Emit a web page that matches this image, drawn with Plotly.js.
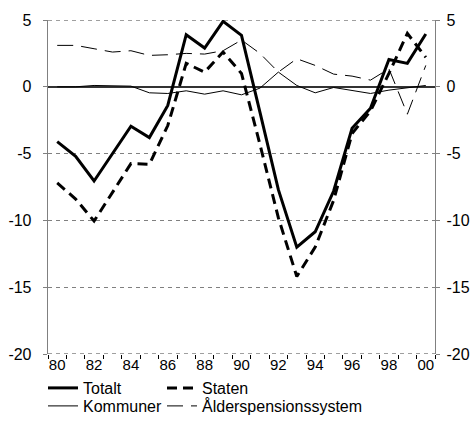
<!DOCTYPE html>
<html>
<head>
<meta charset="utf-8">
<script src="https://cdn.plot.ly/plotly-3.0.1.min.js"></script>
<style>html,body{margin:0;padding:0;background:#fff;}#chart{width:471px;height:423px;}</style>
</head>
<body>
<div id="chart"></div>
<script>
var years = ["80","81","82","83","84","85","86","87","88","89","90","91","92","93","94","95","96","97","98","99","00"];
var tickLabels = ["80","82","84","86","88","90","92","94","96","98","00"];
var totalt = [-4.1,-5.2,-7.05,-5.0,-2.95,-3.8,-1.4,3.9,2.9,4.9,3.85,-1.9,-7.7,-12.0,-10.85,-7.8,-3.1,-1.6,2.05,1.75,3.95];
var staten = [-7.2,-8.4,-10.05,-7.9,-5.75,-5.8,-2.9,1.75,1.1,2.6,1.0,-4.3,-9.8,-14.2,-12.0,-8.5,-3.5,-1.8,1.0,4.0,2.2];
var kommuner = [0,0,0.1,0.05,0.05,-0.45,-0.5,-0.3,-0.55,-0.3,-0.6,-0.1,1.1,0.1,-0.45,-0.05,-0.25,-0.5,-0.25,-0.1,0.1];
var alder = [3.1,3.1,2.85,2.6,2.7,2.35,2.4,2.5,2.45,2.7,3.5,2.5,1.1,2.1,1.6,0.95,0.8,0.5,1.35,-2.05,1.6];
var names = ["Totalt","Staten","Kommuner","Ålderspensionssystem"];
var yRange = [-20, 5];
var yTicks = [-20, -15, -10, -5, 0, 5];
var yTickText = ["-20", "-15", "-10", "-5", "0", "5"];

var xi = years.map(function(_, i){ return i; });
var tickIdx = tickLabels.map(function(l){ return years.indexOf(l); });

var traces = [
  {x: xi, y: totalt, name: names[0], mode: 'lines', line: {color: '#000', width: 3}, legend: 'legend'},
  {x: xi, y: kommuner, name: names[2], mode: 'lines', line: {color: '#000', width: 1}, legend: 'legend3'},
  {x: xi, y: staten, name: names[1], mode: 'lines', line: {color: '#000', width: 3, dash: '10px,6px'}, legend: 'legend2'},
  {x: xi, y: alder, name: names[3], mode: 'lines', line: {color: '#000', width: 1, dash: '16px,8px'}, legend: 'legend4'},
  {x: xi, y: totalt, yaxis: 'y2', mode: 'lines', line: {width: 0}, showlegend: false, hoverinfo: 'skip', opacity: 0}
];

var xFont = {family: 'Liberation Sans, Arial, sans-serif', size: 15, color: '#000'};
var yFont = {family: 'Liberation Sans, Arial, sans-serif', size: 16, color: '#000'};
var legFont = {family: 'Liberation Sans, Arial, sans-serif', size: 16, color: '#000'};
var yax = {
  range: yRange, tickvals: yTicks, ticktext: yTickText, ticks: 'outside', ticklen: 4, tickcolor: '#808080', ticklabelstandoff: 8,
  showgrid: true, gridcolor: '#808080', griddash: '4px,4px', gridwidth: 1.3,
  zeroline: true, zerolinecolor: '#333', zerolinewidth: 2,
  showline: true, linecolor: '#808080', linewidth: 1.3, tickfont: yFont, fixedrange: true
};
var yax2 = JSON.parse(JSON.stringify(yax));
yax2.overlaying = 'y'; yax2.side = 'right'; yax2.showgrid = false; yax2.zeroline = false; yax2.ticklabelstandoff = 3;

function leg(xpx, bottomPx) {
  return {xref: 'container', yref: 'container', x: xpx/471, y: bottomPx/423, xanchor: 'left', yanchor: 'bottom',
          orientation: 'v', font: legFont, bgcolor: 'rgba(0,0,0,0)', tracegroupgap: 0};
}

var edgeShapes = yRange.map(function(v){
  return {type: 'line', xref: 'paper', x0: 0, x1: 1, yref: 'y', y0: v, y1: v,
          line: {color: '#808080', width: 1.3, dash: '4px,4px'}, layer: 'below'};
});

var layout = {
  width: 471, height: 423,
  margin: {l: 48, r: 36, t: 20, b: 69, autoexpand: false},
  paper_bgcolor: '#fff', plot_bgcolor: '#fff',
  font: xFont,
  xaxis: {
    range: [-0.5, years.length - 0.5], tickvals: tickIdx, ticktext: tickLabels, ticks: '', tickangle: 0,
    showgrid: false, zeroline: false, showline: false, tickfont: xFont,
    minor: {ticks: 'outside', ticklen: 4, tickcolor: '#000', tick0: -0.5, dtick: 1, showgrid: false},
    fixedrange: true
  },
  yaxis: yax,
  yaxis2: yax2,
  shapes: edgeShapes,
  legend: leg(43, 18),
  legend2: leg(162, 18),
  legend3: leg(43, 0),
  legend4: leg(162, 0),
  showlegend: true
};
Plotly.newPlot('chart', traces, layout, {staticPlot: true, displayModeBar: false});
</script>
</body>
</html>
